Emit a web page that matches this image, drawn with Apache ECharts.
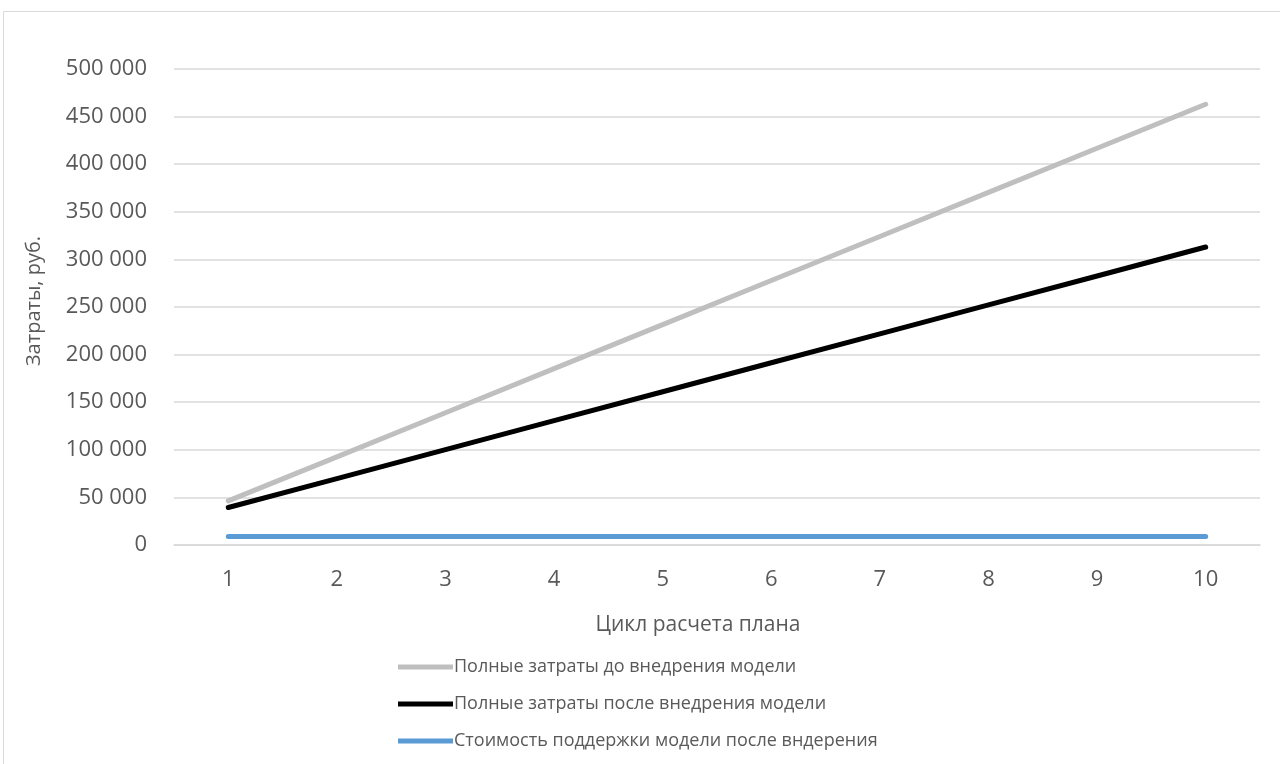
<!DOCTYPE html>
<html><head><meta charset="utf-8">
<script src="https://cdn.jsdelivr.net/npm/echarts@6/dist/echarts.min.js"></script>
<style>html,body{margin:0;padding:0;background:#fff}#c{width:1280px;height:764px}</style>
</head><body><div id="c"></div>
<script>
const categories = ['1','2','3','4','5','6','7','8','9','10'];
const seriesNames = ['Полные затраты до внедрения модели','Полные затраты после внедрения модели','Стоимость поддержки модели после вндерения'];
const fullBefore = [46300, 92600, 138900, 185200, 231500, 277800, 324100, 370400, 416700, 463000];
const fullAfter = [39400, 69800, 100200, 130600, 161000, 191400, 221800, 252200, 282600, 313000];
const support = [9000, 9000, 9000, 9000, 9000, 9000, 9000, 9000, 9000, 9000];
const yTicks = {min: 0, max: 500000, interval: 50000};
const xName = 'Цикл расчета плана';
const yName = 'Затраты, руб.';

const font = 'Open Sans';
const txt = '#595959';
const chart = echarts.init(document.getElementById('c'));
const colors = ['#BFBFBF','#000000','#5B9BD5'];
const data = [fullBefore, fullAfter, support];
chart.setOption({
  animation:false,
  textStyle:{fontFamily:font},
  graphic:[{type:'rect',shape:{x:3.5,y:11.5,width:1290,height:800},style:{fill:'none',stroke:'#D9D9D9',lineWidth:1},silent:true}],
  grid:{left:174,right:20,top:69,bottom:219},
  legend:{orient:'vertical',left:393,top:653,itemWidth:55,itemHeight:5,itemGap:19,icon:'rect',
    textStyle:{color:txt,fontSize:18,fontFamily:font,padding:[0,0,0,-4]},
    data:seriesNames},
  xAxis:{type:'category',data:categories,boundaryGap:true,
    axisLine:{lineStyle:{color:'#D9D9D9',width:1.5}},axisTick:{show:false},
    axisLabel:{color:txt,fontSize:22,margin:24,fontFamily:font},
    name:xName,nameLocation:'middle',nameGap:70,nameTextStyle:{color:txt,fontSize:21,fontFamily:font,padding:[0,38,0,0]}},
  yAxis:{type:'value',min:yTicks.min,max:yTicks.max,interval:yTicks.interval,
    axisLine:{show:false},axisTick:{show:false},
    splitLine:{lineStyle:{color:'#D9D9D9',width:1.5}},
    axisLabel:{color:txt,fontSize:22,margin:27,fontFamily:font,formatter:v=>String(v).replace(/\B(?=(\d{3})+(?!\d))/g,' ')},
    name:yName,nameLocation:'middle',nameGap:130,nameTextStyle:{color:txt,fontSize:20,fontFamily:font,padding:[0,0,0,12]}},
  series:seriesNames.map((n,i)=>({name:n,type:'line',data:data[i],symbol:'none',z:i===1?3:2,
    lineStyle:{color:colors[i],width:5,cap:'round'},itemStyle:{color:colors[i]}}))
});
</script></body></html>
